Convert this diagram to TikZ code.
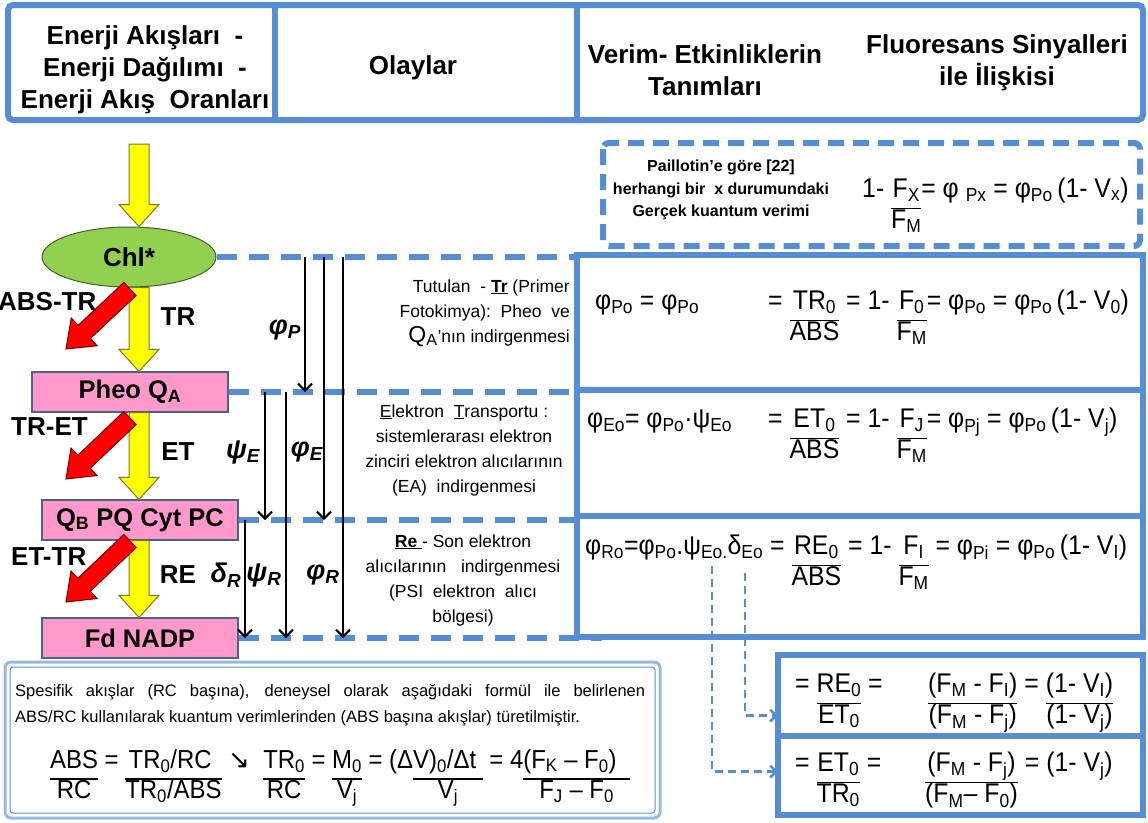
\documentclass[tikz,border=0pt]{standalone}
\usepackage{fontspec}
\setmainfont{Liberation Sans}
\newfontfamily\narfont[FakeStretch=0.92]{Liberation Sans}
\newfontfamily\arrfont{DejaVu Sans}
\usepackage{xcolor}
\usepackage{tikz}
\usetikzlibrary{shapes.geometric, arrows.meta, positioning, calc}

\definecolor{frameblue}{RGB}{85,142,213}
\definecolor{lightframe}{RGB}{149,185,228}
\definecolor{pinkfill}{RGB}{255,153,204}
\definecolor{pinkedge}{RGB}{70,100,140}
\definecolor{chlgreen}{RGB}{146,208,80}
\definecolor{greenedge}{RGB}{70,95,40}
\definecolor{arrowyellow}{RGB}{255,255,0}
\definecolor{yellowedge}{RGB}{120,120,60}
\definecolor{arrowred}{RGB}{255,0,0}
\definecolor{rededge}{RGB}{120,0,0}

\setlength{\arrayrulewidth}{1.4pt}
\renewcommand{\arraystretch}{0.9}
\newcommand{\sbs}[1]{\textsubscript{#1}}
\newcommand{\frc}[2]{\begin{tabular}[t]{@{}c@{}}#1\rule[-0.4em]{0pt}{0.5em}\\\hline #2\end{tabular}}
% block arrow: style, from, to, half shaft, half head, head length
\newcommand{\blockarrow}[6]{%
  \coordinate (bahead) at ($(#3)!#6!(#2)$);
  \draw[#1] ($(#2)!#4!90:(#3)$) -- ($(bahead)!#4!-90:(#2)$) -- ($(bahead)!#5!-90:(#2)$) -- (#3)
    -- ($(bahead)!#5!90:(#2)$) -- ($(bahead)!#4!90:(#2)$) -- ($(#2)!#4!-90:(#3)$) -- cycle;}

\begin{document}
\begin{tikzpicture}[x=1pt, y=-1pt,
  frame/.style={draw=frameblue, line width=6pt},
  rbox/.style={frame, minimum width=566pt, inner sep=0pt, outer sep=0pt},
  level/.style={draw=frameblue, line width=6pt, dash pattern=on 20pt off 12pt},
  flow/.style={black, line width=2pt, -{Straight Barb[length=7pt,width=14pt]}},
  link/.style={draw=frameblue, line width=2.5pt, dash pattern=on 8pt off 5pt, -{Straight Barb[length=6pt,width=12pt]}},
  head/.style={font=\bfseries\fontsize{26}{32}\selectfont, align=center, inner sep=0pt},
  pinkbox/.style={draw=pinkedge, fill=pinkfill, line width=1.2pt, minimum width=196pt, minimum height=40pt, font=\bfseries\fontsize{25.5}{28}\selectfont},
  yarr/.style={draw=yellowedge, fill=arrowyellow, line width=1pt},
  rarr/.style={draw=rededge, fill=arrowred, line width=1pt},
  flab/.style={font=\bfseries\fontsize{26}{28}\selectfont, inner sep=0pt},
  glabel/.style={font=\bfseries\itshape\fontsize{27}{27}\selectfont, inner sep=0pt},
  midtext/.style={font=\fontsize{17.5}{25}\selectfont, inner sep=0pt},
  fml/.style={font=\narfont\fontsize{27}{30}\selectfont, inner sep=0pt, anchor=base west}]
\useasboundingbox (0,0) rectangle (1148,822);

% header
\draw[frame, rounded corners=5pt] (8,5) rectangle (1143,120);
\draw[frame] (275,5) -- (275,120) (577,5) -- (577,120);
\node[head] (hflow) at (145,70) {Enerji Akışları\ \ -\\Enerji Dağılımı\ \ -\\Enerji Akış\ \ Oranları};
\node[head] (hevent) at (413,68) {Olaylar};
\node[head] (hdef) at (705,70) {Verim- Etkinliklerin\\Tanımları};
\node[head] (hfluo) at (997,63) {Fluoresans\ Sinyalleri\\ile İlişkisi};

% Paillotin
\draw[frame, dash pattern=on 16pt off 9pt, rounded corners=6pt] (603,143) rectangle (1140,246);
\node[font=\bfseries\fontsize{16}{22.5}\selectfont, align=center, inner sep=0pt] (pail) at (721,190) {Paillotin’e göre [22]\\herhangi bir\ \ x durumundaki\\Gerçek kuantum verimi};
\node[fml] (pailf) at (862,197) {1- \frc{F\sbs{X}}{F\sbs{M}}= φ \sbs{Px} = φ\sbs{Po}\,(1- V\sbs{x})};

% right boxes
\node[rbox, minimum height=135pt] (trbox) at (860,322.5) {};
\node[rbox, minimum height=126pt] (etbox) at (860,453) {};
\node[rbox, minimum height=121pt] (rebox) at (860,576.5) {};
\node[rbox, minimum width=365pt, minimum height=81pt] (ratio1) at (960.5,695.5) {};
\node[rbox, minimum width=365pt, minimum height=79pt] (ratio2) at (960.5,775.5) {};

\node[fml] (trf1) at (595,309) {φ\sbs{Po} = φ\sbs{Po}};
\node[fml] (trf2) at (768,309) {= \frc{TR\sbs{0}}{ABS} = 1- \frc{F\sbs{0}}{F\sbs{M}}= φ\sbs{Po} = φ\sbs{Po}\,(1- V\sbs{0})};
\node[fml] (etf1) at (587,427) {φ\sbs{Eo}= φ\sbs{Po}·ψ\sbs{Eo}};
\node[fml] (etf2) at (768,427) {= \frc{ET\sbs{0}}{ABS} = 1- \frc{F\sbs{J}}{F\sbs{M}}= φ\sbs{Pj} = φ\sbs{Po}\,(1- V\sbs{j})};
\node[fml] (ref) at (585,554) {φ\sbs{Ro}=φ\sbs{Po}.ψ\sbs{Eo.}δ\sbs{Eo} = \frc{RE\sbs{0}}{ABS} = 1- \frc{F\sbs{I}}{F\sbs{M}} = φ\sbs{Pi} = φ\sbs{Po}\,(1- V\sbs{I})};

\node[fml] (raf1) at (795,692) {= \frc{RE\sbs{0}}{ET\sbs{0}} =};
\node[fml] (raf2) at (928,692) {\frc{(F\sbs{M} - F\sbs{I})}{(F\sbs{M} - F\sbs{j})} = \frc{(1- V\sbs{I})}{(1- V\sbs{j})}};
\node[fml] (rbf1) at (795,771) {= \frc{ET\sbs{0}}{TR\sbs{0}} =};
\node[fml] (rbf2) at (925,771) {\frc{(F\sbs{M} - F\sbs{j})}{(F\sbs{M}– F\sbs{0})} = (1- V\sbs{j})};

\coordinate (rlink1) at (745,573);
\coordinate (rlink2) at (712,566);
\draw[link] (rlink1) |- ([yshift=-20pt]ratio1.west);
\draw[link] (rlink2) |- ([yshift=4pt]ratio2.west);

% energy flow column
\node[ellipse, draw=greenedge, fill=chlgreen, line width=1pt, minimum width=174pt, minimum height=60pt, font=\bfseries\fontsize{26}{28}\selectfont] (chl) at (129,257) {Chl*};
\node[pinkbox] (pheo) at (130,392) {Pheo Q\sbs{A}};
\node[pinkbox] (qb) at (140,520) {Q\sbs{B} PQ Cyt PC};
\node[pinkbox] (fd) at (140,638) {Fd NADP};

\coordinate (light) at (139,144);
\blockarrow{yarr}{light}{light |- chl.north}{10pt}{20pt}{22pt}
\coordinate (tr1) at (light |- chl.south);
\coordinate (tr2) at (light |- pheo.north);
\blockarrow{yarr}{tr1}{tr2}{10pt}{20pt}{22pt}
\coordinate (et1) at (light |- pheo.south);
\coordinate (et2) at (light |- qb.north);
\blockarrow{yarr}{et1}{et2}{10pt}{20pt}{22pt}
\coordinate (re1) at (light |- qb.south);
\coordinate (re2) at (light |- fd.north);
\blockarrow{yarr}{re1}{re2}{10pt}{20pt}{22pt}

\coordinate (loss1a) at (130,289);
\coordinate (loss1b) at (66,349);
\blockarrow{rarr}{loss1a}{loss1b}{9pt}{19pt}{25pt}
\coordinate (loss2a) at (130,418);
\coordinate (loss2b) at (66,479);
\blockarrow{rarr}{loss2a}{loss2b}{9pt}{19pt}{25pt}
\coordinate (loss3a) at (130,541);
\coordinate (loss3b) at (66,602);
\blockarrow{rarr}{loss3a}{loss3b}{9pt}{19pt}{25pt}

\node[flab, anchor=west] at (-2,302) {ABS-TR};
\node[flab] at (178,317) {TR};
\node[flab, anchor=west] at (11,427) {TR-ET};
\node[flab] at (178,452) {ET};
\node[flab, anchor=west] at (11,557) {ET-TR};
\node[flab] at (178,575) {RE};

% levels
\draw[level] (chl.east) -- (chl.east -| trbox.west);
\draw[level] (pheo.east) -- (pheo.east -| trbox.west);
\draw[level] (qb.east) -- (qb.east -| trbox.west);
\draw[level] (fd.east) -- ($(fd.east -| rebox.west)+(25,0)$);

\foreach \x/\a/\b in {305/chl/pheo, 324/chl/qb, 343/chl/fd, 265/pheo/qb, 286/pheo/fd, 245/qb/fd}
  \draw[flow] (\x,0 |- \a.east) -- (\x,0 |- \b.east);

\node[glabel] at (285,330) {φ\sbs{P}};
\node[glabel] at (243,452) {ψ\sbs{E}};
\node[glabel] at (307,452) {φ\sbs{E}};
\node[glabel] at (226,575) {δ\sbs{R}};
\node[glabel] at (264,575) {ψ\sbs{R}};
\node[glabel] at (323,575) {φ\sbs{R}};

% events
\node[midtext, align=right, anchor=east] (evtr) at (570,313) {Tutulan\ \ - \textbf{\underline{Tr}} (Primer\\Fotokimya):\ \ Pheo\ \ ve\\{\fontsize{23}{23}\selectfont Q\sbs{A}}’nın indirgenmesi};
\node[midtext, align=center] (evet) at (464,450) {\underline{E}lektron\ \ \underline{T}ransportu :\\sistemlerarası elektron\\zinciri elektron alıcılarının\\(EA)\ \ indirgenmesi};
\node[midtext, align=center] (evre) at (463,580) {\textbf{\underline{Re\ }}- Son elektron\\alıcılarının\ \ \ indirgenmesi\\(PSI\ \ elektron\ \ alıcı\\bölgesi)};

% specific fluxes
\draw[draw=lightframe, line width=3pt, rounded corners=6pt] (5,662) rectangle (660,818);
\draw[draw=frameblue, line width=1pt, rounded corners=3pt] (10,667) rectangle (655,813);
\node[font=\fontsize{16.5}{26}\selectfont, text width=630pt, align=justify, anchor=north west, inner sep=0pt] (note) at (15,684) {Spesifik akışlar (RC başına), deneysel olarak aşağıdaki formül ile belirlenen\linebreak ABS/RC kullanılarak kuantum verimlerinden (ABS başına akışlar) türetilmiştir.};
\node[fml, font=\narfont\fontsize{26}{29}\selectfont] (spec) at (50,768) {\frc{ABS}{RC} = \frc{TR\sbs{0}/RC\ }{TR\sbs{0}/ABS}\ {\arrfont ↘}\ \ \frc{TR\sbs{0}}{RC} = \frc{M\sbs{0}}{V\sbs{j}} = (Δ\frc{V)\sbs{0}/Δt\ }{V\sbs{j}} = 4\frc{(F\sbs{K} – F\sbs{0})\ \ }{F\sbs{J} – F\sbs{0}}};
\end{tikzpicture}
\end{document}
